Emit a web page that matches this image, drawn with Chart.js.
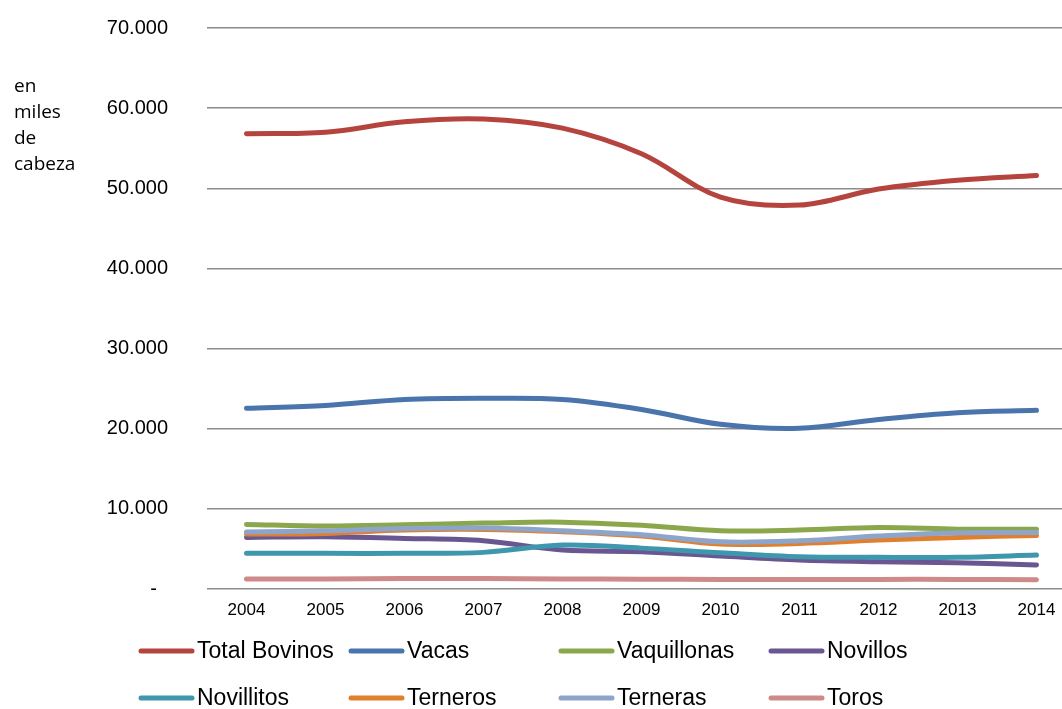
<!DOCTYPE html>
<html>
<head>
<meta charset="utf-8">
<script src="https://cdn.jsdelivr.net/npm/chart.js@4/dist/chart.umd.min.js"></script>
<style>
  html, body { margin: 0; padding: 0; background: #fff; overflow: hidden; }
  #wrap { width: 1076px; height: 732px; margin-top: -23px; }
</style>
</head>
<body>
<div id="wrap"><canvas id="stock"></canvas></div>
<script>
const years = ['2004', '2005', '2006', '2007', '2008', '2009', '2010', '2011', '2012', '2013', '2014'];
const yTicks = [0, 10000, 20000, 30000, 40000, 50000, 60000, 70000];
const totalBovinos = [56800, 57000, 58300, 58650, 57500, 54300, 48900, 47900, 49900, 51000, 51600];
const vacas = [22540, 22900, 23650, 23800, 23650, 22400, 20550, 20050, 21150, 22000, 22300];
const vaquillonas = [8060, 7850, 8010, 8220, 8340, 7950, 7260, 7350, 7680, 7470, 7470];
const novillos = [6440, 6510, 6310, 6020, 4860, 4650, 4110, 3610, 3400, 3280, 2990];
const novillitos = [4450, 4450, 4450, 4570, 5480, 5100, 4520, 4020, 3950, 3950, 4230];
const terneros = [6850, 6940, 7350, 7430, 7140, 6600, 5600, 5690, 6100, 6440, 6690];
const terneras = [7100, 7260, 7560, 7600, 7260, 6780, 5890, 6020, 6600, 7010, 7060];
const toros = [1250, 1250, 1300, 1300, 1250, 1230, 1200, 1200, 1200, 1200, 1150];

const font = '"Liberation Sans", Arial, sans-serif';
const series = [
  ['Total Bovinos', totalBovinos, '#B5443F'],
  ['Vacas', vacas, '#4A74AC'],
  ['Vaquillonas', vaquillonas, '#8BA74B'],
  ['Novillos', novillos, '#6A5690'],
  ['Novillitos', novillitos, '#3F97AE'],
  ['Terneros', terneros, '#E0802F'],
  ['Terneras', terneras, '#8DA4CB'],
  ['Toros', toros, '#CE8A88']
];

// texto del eje y a la izquierda + leyenda en grilla (como Excel)
// (coordenadas del canvas, que empieza 23px más arriba)
const extras = {
  id: 'extras',
  afterDraw(chart) {
    const ctx = chart.ctx;
    ctx.save();
    ctx.fillStyle = '#000';
    ctx.font = '19px "Open Sans", sans-serif';
    ctx.textBaseline = 'middle';
    ['en', 'miles', 'de', 'cabeza'].forEach((t, i) => ctx.fillText(t, 14, 110 + i * 26));

    ctx.font = '23px ' + font;
    chart.data.datasets.forEach((ds, i) => {
      const x = 139 + (i % 4) * 210;
      const y = 674 + Math.floor(i / 4) * 47;
      ctx.strokeStyle = ds.borderColor;
      ctx.lineWidth = 5;
      ctx.lineCap = 'round';
      ctx.beginPath();
      ctx.moveTo(x + 2, y);
      ctx.lineTo(x + 53, y);
      ctx.stroke();
      ctx.fillStyle = '#000';
      ctx.fillText(ds.label, x + 58, y + 1);
    });
    ctx.restore();
  }
};

new Chart(document.getElementById('stock'), {
  type: 'line',
  data: {
    labels: years,
    datasets: series.map(([label, data, color], i) => ({
      label: label,
      data: data,
      borderColor: color,
      backgroundColor: color,
      borderWidth: 5,
      pointRadius: 0,
      tension: 0.35,
      borderCapStyle: 'round',
      order: series.length - i
    }))
  },
  options: {
    responsive: true,
    maintainAspectRatio: false,
    animation: false,
    layout: { padding: { top: -12, right: 0, left: 0, bottom: 90 } },
    plugins: {
      tooltip: { enabled: false },
      legend: { display: false }
    },
    scales: {
      x: {
        offset: true,
        afterFit: s => { s.height = 30; },
        grid: { display: false, drawTicks: false },
        border: { display: false },
        ticks: { color: '#000', padding: 11, maxRotation: 0, font: { family: font, size: 17 } }
      },
      y: {
        min: 0,
        max: 70000,
        afterBuildTicks: s => { s.ticks = yTicks.map(v => ({ value: v })); },
        afterFit: s => { s.width = 207; },
        grid: { color: '#8c8c8c', lineWidth: 1.5, drawTicks: false },
        border: { display: false },
        ticks: {
          color: '#000',
          padding: 39,
          font: { family: font, size: 20 },
          callback: v => v === 0 ? '-  ' : v.toLocaleString('de-DE')
        }
      }
    }
  },
  plugins: [extras]
});
</script>
</body>
</html>
